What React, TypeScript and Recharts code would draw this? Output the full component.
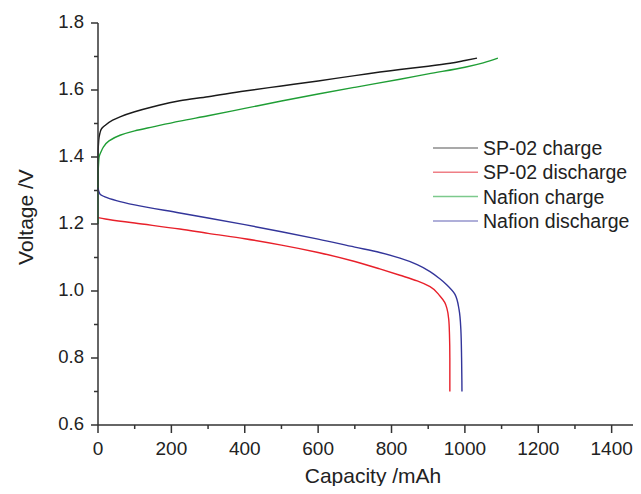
import { Line, LineChart, XAxis, YAxis } from "recharts";

// capacity (mAh) / voltage (V) pairs
const spChargeCap = [0, 0, 2, 5, 10, 20, 40, 60, 100, 150, 223, 300, 400, 500, 600, 700, 823, 900, 960, 1000, 1033];
const spChargeV = [1.3, 1.4, 1.45, 1.47, 1.485, 1.495, 1.51, 1.52, 1.535, 1.55, 1.568, 1.58, 1.597, 1.612, 1.627, 1.643, 1.661, 1.671, 1.68, 1.688, 1.695];

const spDischargeCap = [0, 20, 100, 223, 300, 400, 500, 600, 700, 768, 823, 870, 905, 932, 945, 951, 956, 958, 959, 959];
const spDischargeV = [1.219, 1.215, 1.203, 1.185, 1.172, 1.156, 1.137, 1.115, 1.088, 1.066, 1.047, 1.03, 1.013, 0.985, 0.966, 0.948, 0.915, 0.87, 0.8, 0.7];

const nafionChargeCap = [0, 0, 1, 3, 8, 15, 30, 60, 100, 150, 223, 300, 400, 500, 600, 700, 823, 900, 1000, 1050, 1090];
const nafionChargeV = [1.2, 1.33, 1.37, 1.4, 1.415, 1.43, 1.448, 1.465, 1.478, 1.49, 1.507, 1.523, 1.545, 1.567, 1.588, 1.608, 1.632, 1.648, 1.668, 1.681, 1.695];

const nafionDischargeCap = [0, 5, 19, 50, 100, 223, 300, 400, 500, 600, 700, 768, 823, 870, 905, 930, 951, 973, 984, 989, 991, 992];
const nafionDischargeV = [1.308, 1.29, 1.281, 1.27, 1.257, 1.233, 1.218, 1.198, 1.177, 1.155, 1.131, 1.115, 1.098, 1.079, 1.058, 1.038, 1.018, 0.99, 0.945, 0.885, 0.8, 0.7];

const xTicks = [0, 100, 200, 300, 400, 500, 600, 700, 800, 900, 1000, 1100, 1200, 1300, 1400];
const yTicks = [0.6, 0.7, 0.8, 0.9, 1.0, 1.1, 1.2, 1.3, 1.4, 1.5, 1.6, 1.7, 1.8];

const series = [
  { name: "SP-02 charge", cap: spChargeCap, v: spChargeV, color: "#1a1a1a", legend: "#8c8c8c" },
  { name: "SP-02 discharge", cap: spDischargeCap, v: spDischargeV, color: "#e8202a", legend: "#ef7f86" },
  { name: "Nafion charge", cap: nafionChargeCap, v: nafionChargeV, color: "#1f9e35", legend: "#7cc98c" },
  { name: "Nafion discharge", cap: nafionDischargeCap, v: nafionDischargeV, color: "#33359a", legend: "#9595cc" },
];

const toPoints = (cap: number[], v: number[]) => cap.map((c, i) => ({ cap: c, v: v[i] }));

const TEXT = "#222";
const AXIS = "#333";

const XTick = ({ x, y, payload }: any) => {
  const major = payload.value % 200 === 0;
  return (
    <g>
      <line x1={x} x2={x} y1={y} y2={y + (major ? 8 : 4)} stroke={AXIS} strokeWidth={1.5} />
      {major && (
        <text x={x} y={y + 30} textAnchor="middle" fontSize={19} fill={TEXT}>
          {payload.value}
        </text>
      )}
    </g>
  );
};

const YTick = ({ x, y, payload }: any) => {
  const major = Math.round(payload.value * 10) % 2 === 0;
  return (
    <g>
      <line x1={x - (major ? 7 : 4)} x2={x} y1={y} y2={y} stroke={AXIS} strokeWidth={1.5} />
      {major && (
        <text x={x - 14} y={y + 5} textAnchor="end" fontSize={18.5} fill={TEXT}>
          {payload.value.toFixed(1)}
        </text>
      )}
    </g>
  );
};

const XLabel = ({ viewBox }: any) => (
  <text x={viewBox.x + 275} y={viewBox.y + 58} textAnchor="middle" fontSize={21} fill={TEXT}>
    Capacity /mAh
  </text>
);

const YLabel = ({ viewBox }: any) => {
  const cx = viewBox.x + 25;
  const cy = viewBox.y + viewBox.height / 2 - 7;
  return (
    <text
      x={cx}
      y={cy}
      transform={`rotate(-90 ${cx} ${cy})`}
      textAnchor="middle"
      dominantBaseline="central"
      fontSize={21}
      fill={TEXT}
    >
      Voltage /V
    </text>
  );
};

const LegendBox = () => (
  <svg width={210} height={100} style={{ position: "absolute", left: 430, top: 136 }}>
    {series.map((s, i) => (
      <g key={s.name}>
        <line x1={3} x2={48} y1={12 + i * 24.3} y2={12 + i * 24.3} stroke={s.legend} strokeWidth={1.5} />
        <text x={53} y={19 + i * 24.3} fontSize={19.5} fill={TEXT}>
          {s.name}
        </text>
      </g>
    ))}
  </svg>
);

export default function App() {
  return (
    <div
      style={{
        margin: -8,
        position: "relative",
        width: 641,
        height: 494,
        background: "#fff",
        fontFamily: "'Liberation Sans', Arial, sans-serif",
      }}
    >
      <LineChart width={641} height={494} margin={{ top: 23, right: 0, bottom: 0, left: 0 }}>
        <XAxis
          type="number"
          dataKey="cap"
          domain={[0, 1480]}
          ticks={xTicks}
          interval={0}
          height={69}
          stroke={AXIS}
          strokeWidth={1.5}
          tickLine={false}
          tickSize={0}
          tickMargin={0}
          tick={<XTick />}
          allowDuplicatedCategory={false}
          label={<XLabel />}
        />
        <YAxis
          type="number"
          dataKey="v"
          domain={[0.6, 1.8]}
          ticks={yTicks}
          interval={0}
          width={98}
          stroke={AXIS}
          strokeWidth={1.5}
          tickLine={false}
          tickSize={0}
          tickMargin={0}
          tick={<YTick />}
          label={<YLabel />}
        />
        {series.map((s) => (
          <Line
            key={s.name}
            name={s.name}
            data={toPoints(s.cap, s.v)}
            dataKey="v"
            type="monotoneY"
            stroke={s.color}
            strokeWidth={1.4}
            dot={false}
            activeDot={false}
            isAnimationActive={false}
          />
        ))}
      </LineChart>
      <LegendBox />
    </div>
  );
}
